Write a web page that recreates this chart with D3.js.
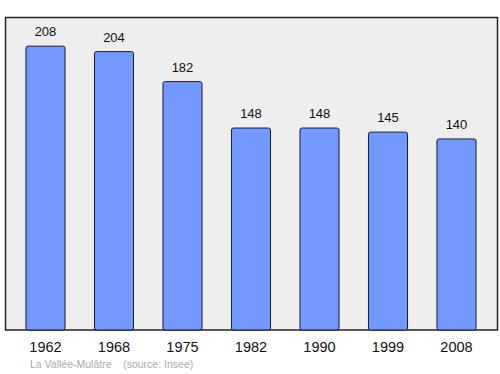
<!DOCTYPE html>
<html>
<head>
<meta charset="utf-8">
<script src="https://cdn.jsdelivr.net/npm/d3@7"></script>
<style>
  body { margin: 0; background: #fff; }
  text { font-family: "Liberation Sans", Arial, sans-serif; }
</style>
</head>
<body>
<div id="chart"></div>
<script>
var years = ["1962", "1968", "1975", "1982", "1990", "1999", "2008"];
var population = [208, 204, 182, 148, 148, 145, 140];

var svgWidth = 500;
var svgHeight = 374;

var plot = { left: 5.5, top: 17.5, right: 497.5, bottom: 330 };

var svg = d3.select("#chart")
  .append("svg")
  .attr("width", svgWidth)
  .attr("height", svgHeight);

// plot background
svg.append("rect")
  .attr("x", plot.left)
  .attr("y", plot.top)
  .attr("width", plot.right - plot.left)
  .attr("height", plot.bottom - plot.top)
  .attr("fill", "#eeeeee")
  .attr("stroke", "#222")
  .attr("stroke-width", 1.5);

var x = d3.scaleBand()
  .domain(years)
  .range([11.25, 490.75])
  .paddingInner(0.43)
  .paddingOuter(0.215);

var y = d3.scaleLinear()
  .domain([0, 229])
  .range([plot.bottom, plot.top]);

var bars = svg.selectAll(".bar")
  .data(population)
  .enter();

bars.append("rect")
  .attr("x", (d, i) => x(years[i]))
  .attr("y", d => y(d))
  .attr("width", x.bandwidth())
  .attr("height", d => y(0) - y(d))
  .attr("rx", 2)
  .attr("fill", "#7399ff")
  .attr("stroke", "#1a1a33")
  .attr("stroke-width", 1);

bars.append("text")
  .attr("x", (d, i) => x(years[i]) + x.bandwidth() / 2)
  .attr("y", d => y(d) - 10)
  .attr("text-anchor", "middle")
  .attr("font-size", "13px")
  .attr("fill", "#111")
  .text(d => d);

// year labels
svg.selectAll(".year")
  .data(years)
  .enter()
  .append("text")
  .attr("x", d => x(d) + x.bandwidth() / 2)
  .attr("y", 352)
  .attr("text-anchor", "middle")
  .attr("font-size", "14.5px")
  .attr("fill", "#111")
  .text(d => d);

svg.append("text")
  .attr("x", 30)
  .attr("y", 368)
  .attr("font-size", "10.5px")
  .attr("fill", "#aaaaaa")
  .attr("xml:space", "preserve")
  .style("white-space", "pre")
  .text("La Vallée-Mulâtre    (source: Insee)");
</script>
</body>
</html>
